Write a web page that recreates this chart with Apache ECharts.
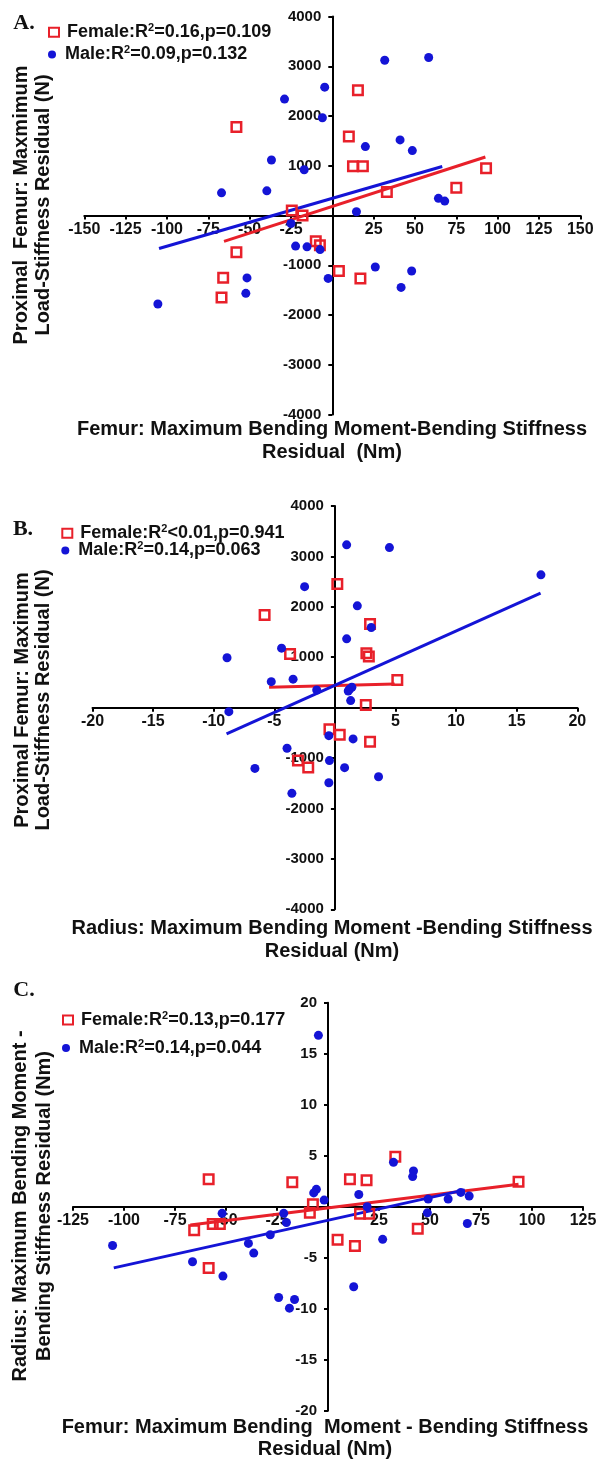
<!DOCTYPE html>
<html><head><meta charset="utf-8">
<script src="https://cdn.jsdelivr.net/npm/echarts@6/dist/echarts.min.js"></script>
<style>html,body{margin:0;padding:0;background:#fff}#c{width:602px;height:1462px}</style>
</head><body><div id="c"></div>
<script>
// ---------- Data ----------
// Panel A: x = Femur max bending moment-bending stiffness residual (Nm), y = Proximal femur load-stiffness residual (N)
const aFemale = [[-58,1780],[15.5,2520],[10,1590],[12.5,990],[18.5,990],[33,470],[75,560],[93,950],[-24.5,100],[-18,0],[-10,-520],[-7.5,-600],[-58,-740],[-66,-1250],[-67,-1650],[4,-1115],[17,-1265]];
const aMale = [[31.7,3120],[58.3,3175],[-4.6,2580],[-28.9,2340],[-6,1965],[20,1385],[41,1520],[48.4,1305],[-36.8,1115],[-17,920],[-67,455],[-39.6,495],[64.2,345],[68,290],[14.6,75],[-25,-160],[-22.2,-615],[-15.3,-630],[-7.4,-685],[-51.6,-1255],[-52.3,-1565],[-105.5,-1780],[-2.5,-1265],[26,-1035],[48,-1115],[41.6,-1445]];
const aFemaleFit = [[-65.5,-521],[92.6,1176]];
const aMaleFit = [[-104.8,-663],[66.5,986]];
// Panel B: x = Radius residual (Nm), y = Proximal femur residual (N)
const bFemale = [[0.2,2455],[-5.8,1840],[2.9,1660],[-3.7,1065],[2.6,1080],[2.8,1015],[5.15,550],[2.55,55],[-0.45,-430],[0.4,-540],[2.9,-675],[-3.05,-1050],[-2.2,-1185]];
const bMale = [[0.97,3230],[4.5,3175],[17,2635],[-2.5,2400],[1.85,2020],[3.0,1590],[0.97,1365],[-4.4,1180],[-8.9,990],[-5.25,515],[-3.45,565],[-1.5,350],[1.2,365],[1.4,405],[1.1,330],[1.3,140],[-8.75,-80],[-0.5,-555],[1.5,-620],[-3.95,-805],[-0.45,-1050],[-6.6,-1205],[0.8,-1190],[3.6,-1370],[-0.5,-1490],[-3.55,-1700]];
const bFemaleFit = [[-5.43,405],[4.93,470]];
const bMaleFit = [[-8.94,-522],[16.97,2270]];
// Panel C: x = Femur residual (Nm), y = Radius residual (Nm)
const cFemale = [[-58.5,2.7],[-17.5,2.4],[10.75,2.7],[18.9,2.6],[33,4.9],[93.4,2.45],[-7.4,0.25],[-8.9,-0.6],[-65.6,-2.3],[-56.5,-1.7],[-53,-1.7],[-58.5,-6.0],[4.7,-3.25],[13.2,-3.85],[15.7,-0.7],[20.2,-0.7],[44,-2.15]];
const cMale = [[-4.7,16.8],[32.1,4.35],[41.9,3.5],[41.5,2.95],[-5.7,1.7],[-7,1.35],[-1.9,0.65],[15.1,1.2],[49.1,0.75],[58.9,0.75],[65.1,1.4],[69.2,1.05],[-51.9,-0.65],[-21.7,-0.65],[-20.4,-1.55],[-28.3,-2.75],[-39,-3.6],[-36.4,-4.55],[-105.6,-3.8],[-66.4,-5.4],[-51.5,-6.8],[-24.2,-8.9],[-18.9,-9.95],[-16.4,-9.1],[12.6,-7.85],[26.8,-3.2],[48.7,-0.6],[68.3,-1.65],[19.2,0]];
const cFemaleFit = [[-67.5,-1.8],[93.4,2.2]];
const cMaleFit = [[-105,-6],[67,1.65]];

const legendNames = [
  ['Female:R2=0.16,p=0.109','Male:R2=0.09,p=0.132'],
  ['Female:R2<0.01,p=0.941','Male:R2=0.14,p=0.063'],
  ['Female:R2=0.13,p=0.177','Male:R2=0.14,p=0.044']
];
const panelLetters = ['A.','B.','C.'];
const yTitles = [
  ['Proximal  Femur: Maxmimum','Load-Stiffness Residual (N)'],
  ['Proximal Femur: Maximum','Load-Stiffness Residual (N)'],
  ['Radius: Maximum Bending Moment -','Bending Stiffness Residual (Nm)']
];
const xTitles = [
  ['Femur: Maximum Bending Moment-Bending Stiffness','Residual  (Nm)'],
  ['Radius: Maximum Bending Moment -Bending Stiffness','Residual (Nm)'],
  ['Femur: Maximum Bending  Moment - Bending Stiffness','Residual (Nm)']
];
const xRanges = [[-150,150,25],[-20,20,5],[-125,125,25]];
const yRanges = [[-4000,4000,1000],[-4000,4000,1000],[-20,20,5]];

// ---------- Layout ----------
const FONT = '"Liberation Sans", Arial, sans-serif';
const RED = '#e8202a', BLUE = '#1414d6';
const grids = [
  {left:84.3, top:16.5, width:496, height:398},
  {left:92.5, top:506, width:484.8, height:403.3},
  {left:73, top:1002.7, width:510, height:408}
];
// legend items: [left, centerY] for female and male
const legendPos = [
  [[48,32.3],[48,54.5]],
  [[61.3,533.3],[61.3,550.5]],
  [[62,1020],[62,1048]]
];
const letterPos = [[24,23],[23,529],[24,990]];
const yTitlePos = [[21,43,205],[22,43,700],[20,44,1206]];
const xTitlePos = [[332,429,452],[332,928,951],[325,1427,1449]];

const sup = {fontSize:11, fontWeight:'bold', fontFamily:FONT, color:'#111', verticalAlign:'top', padding:[0,0,8,0]};
const option = {animation:false, backgroundColor:'#fff', grid:[], xAxis:[], yAxis:[], series:[], legend:[], graphic:[]};

function axisCommon(r){
  return {type:'value', min:r[0], max:r[1], interval:r[2], splitLine:{show:false},
    axisLine:{onZero:false, lineStyle:{color:'#000', width:2}},
    axisTick:{length:4, lineStyle:{color:'#000', width:2}},
    axisLabel:{fontFamily:FONT, fontWeight:'bold', fontSize:15, color:'#111', formatter:v=> v===0?'':String(v)}};
}
const panels = [[aFemale,aMale,aFemaleFit,aMaleFit],[bFemale,bMale,bFemaleFit,bMaleFit],[cFemale,cMale,cFemaleFit,cMaleFit]];
panels.forEach((p,i)=>{
  option.grid.push(grids[i]);
  // ranges are symmetric, so the zero lines sit at the centre of each grid
  const xa = axisCommon(xRanges[i]); xa.gridIndex=i; xa.position='bottom'; xa.offset=-grids[i].height/2;
  xa.axisLabel.margin=6; xa.axisLabel.fontSize=16;
  const ya = axisCommon(yRanges[i]); ya.gridIndex=i; ya.position='left'; ya.offset=-grids[i].width/2;
  ya.axisLabel.margin=11;
  option.xAxis.push(xa); option.yAxis.push(ya);
  option.series.push({type:'line', name:'fitF'+i, xAxisIndex:i, yAxisIndex:i, data:p[2], symbol:'none', lineStyle:{color:RED, width:3}, z:2});
  option.series.push({type:'line', name:'fitM'+i, xAxisIndex:i, yAxisIndex:i, data:p[3], symbol:'none', lineStyle:{color:BLUE, width:3}, z:2});
  option.series.push({type:'scatter', name:legendNames[i][0], xAxisIndex:i, yAxisIndex:i, data:p[0], symbol:'rect', symbolSize:9.5,
    itemStyle:{color:'rgba(255,255,255,0)', borderColor:RED, borderWidth:2.5, opacity:1}, z:3});
  option.series.push({type:'scatter', name:legendNames[i][1], xAxisIndex:i, yAxisIndex:i, data:p[1], symbol:'circle', symbolSize:9,
    itemStyle:{color:BLUE, opacity:1}, z:4});
  [0,1].forEach(k=>{
    option.legend.push({data:[legendNames[i][k]], orient:'vertical', left:legendPos[i][k][0], top:legendPos[i][k][1]-10,
      itemWidth:10, itemHeight:k===0?9:8, padding:0, selectedMode:false,
      formatter:n=>n.replace('R2','R{sup|2}'),
      textStyle:{fontFamily:FONT, fontWeight:'bold', fontSize:18, color:'#111', lineHeight:20, padding:[0,0,0,3], rich:{sup:sup}}});
    option.graphic.push({type:'text', x:yTitlePos[i][k], y:yTitlePos[i][2], rotation:Math.PI/2,
      style:{text:yTitles[i][k], font:'bold 20px '+FONT, fill:'#111', textAlign:'center', textVerticalAlign:'middle'}});
    option.graphic.push({type:'text', x:xTitlePos[i][0], y:xTitlePos[i][1+k],
      style:{text:xTitles[i][k], font:'bold 20px '+FONT, fill:'#111', textAlign:'center', textVerticalAlign:'middle'}});
  });
  option.graphic.push({type:'text', x:letterPos[i][0], y:letterPos[i][1],
    style:{text:panelLetters[i], font:'bold 22px "Liberation Serif", "Times New Roman", serif', fill:'#111', textAlign:'center', textVerticalAlign:'middle'}});
});
const chart = echarts.init(document.getElementById('c'), null, {renderer:'canvas'});
chart.setOption(option);
</script></body></html>
